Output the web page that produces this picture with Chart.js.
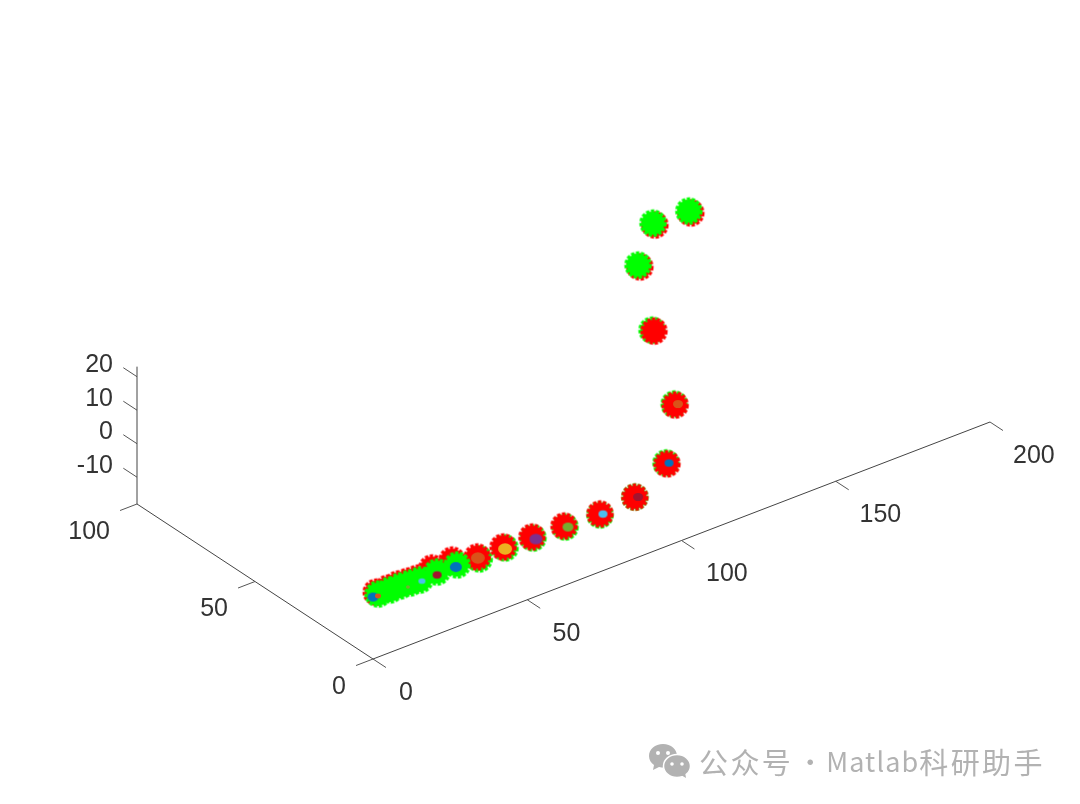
<!DOCTYPE html>
<html>
<head>
<meta charset="utf-8">
<style>
  html, body { margin: 0; padding: 0; background: #fff; }
  #wrap { position: relative; width: 1080px; height: 804px; overflow: hidden; }
  #mark { position: absolute; left: 648px; top: 742px; display: flex; align-items: center; color: #b2b2b2;
          font: 29px "Noto Sans CJK SC", sans-serif; white-space: nowrap; line-height: 38px; }
  #mark svg { margin-right: 8px; }
  #mark .cjk { letter-spacing: 2.4px; }
  #mark .dot { width: 32px; text-align: center; font-size: 26px; margin-left: 1px; }
  #mark .latin { font-size: 27px; letter-spacing: 1.1px; }
</style>
</head>
<body>
<div id="wrap">
  <canvas id="chart" width="1080" height="804"></canvas>
  <div id="mark">
    <svg width="43" height="36" viewBox="0 0 43 36">
      <path d="M15 1C7 1 1 6 1 13c0 4 2 7 5 9l-1 5 6-3c2 .5 3 .6 5 .6 7 0 13-5 13-11.600S23 1 15 1z" fill="#b2b2b2"/>
      <ellipse cx="29" cy="23" rx="13.500" ry="11.500" fill="#b2b2b2" stroke="#fff" stroke-width="1.500"/>
      <path d="M33 32l5 3-1-6z" fill="#b2b2b2"/>
      <circle cx="10" cy="10" r="2" fill="#fff"/><circle cx="20" cy="10" r="2" fill="#fff"/>
      <circle cx="24" cy="21" r="1.800" fill="#fff"/><circle cx="34" cy="21" r="1.800" fill="#fff"/>
    </svg>
    <span class="cjk">公众号</span><span class="dot">·</span><span class="latin">Matlab</span><span class="cjk">科研助手</span>
  </div>
</div>
<script src="https://cdn.jsdelivr.net/npm/chart.js@4/dist/chart.umd.min.js"></script>
<script>
// series, in data units
const greenX = [2.5, 6.2, 9.5, 12.5, 15.4, 21.4, 27.7, 34.1, 42.8, 51.6, 61.6, 72.5, 85.2, 102.2, 122.2, 140.7, 158.1, 163.8, 174.9];
const greenY = [1.1, 0.9, 0.95, 0.6, 0.26, 0.86, 0.58, -0.42, 0, -0.32, -0.84, -1.41, 0.42, 9.46, 32.16, 65.72, 94.4, 95.5, 94.8];
const redX = [2.7, 6.4, 9.7, 12.7, 15.6, 21.6, 28.2, 34.3, 42.7, 51.7, 61.7, 72.8, 85.2, 102.1, 122.1, 140.8, 157.9, 163.6, 174.7];
const redY = [2.2, 2.0, 2.1, 1.7, 1.4, 3.3, 3.4, 0.71, 0.72, 0.25, -0.27, -1.0, 0.42, 8.9, 31.6, 65.0, 93.3, 94.4, 93.7];
const pointZ = [0, 0, 0, 0, 0, 0, 0, 0, 0, 0, 0, 0, 0, 0, 0, 0, 0, 10, 10];
// which green points sit in front of the red ones
const greenOnTop = [0, 1, 2, 3, 4, 5, 6, 16, 17, 18];

const innerX = [0.53, 1.86, 10.8, 15.5, 20.5, 26.8, 34.1, 42.5, 51.9, 62.2, 73.4, 85.9, 102.8, 123.0];
const innerY = [0.69, 0.32, -0.71, -0.45, -0.36, -0.08, 0.15, -0.41, -1.19, -1.31, -1.49, -0.05, 8.95, 31.56];
const innerColor = ["#0072BD", "#D95319", "#77AC30", "#4DBEEE", "#A2142F", "#0072BD", "#D95319", "#EDB120", "#7E2F8E", "#77AC30", "#4DBEEE", "#A2142F", "#0072BD", "#D95319"];
const innerSize = [5.5, 3, 2, 3.5, 4.5, 6, 7, 7, 6.5, 5.5, 4.5, 5, 4.5, 5];

const xTicks = [0, 50, 100, 150, 200];
const yTicks = [0, 50, 100];
const zTicks = [-10, 0, 10, 20];
const zMin = -18;
const zMax = 23;

// fixed camera: plane position of one data unit along each axis
const ORIGIN = [373, 659];
const UX = [3.085, -1.185];
const UY = [-2.36, -1.55];
const UZ = -3.35;

function project(x, y, z) {
  return {
    x: ORIGIN[0] + x * UX[0] + y * UY[0],
    y: ORIGIN[1] + x * UX[1] + y * UY[1] + (z - zMin) * UZ,
  };
}

// MATLAB-ish marker with a notched edge
function makeMarker(color) {
  const c = document.createElement("canvas");
  c.width = 31;
  c.height = 31;
  const g = c.getContext("2d");
  g.fillStyle = color;
  g.beginPath();
  g.arc(15.5, 15.5, 11.5, 0, Math.PI * 2);
  g.fill();
  g.strokeStyle = color;
  g.lineWidth = 3;
  g.setLineDash([3.4, 1.6]);
  g.beginPath();
  g.arc(15.5, 15.5, 12.2, 0, Math.PI * 2);
  g.stroke();
  return c;
}

// flattened blob for the small coloured patch inside a marker
function makeBlob(color, r) {
  const c = document.createElement("canvas");
  const size = Math.ceil(r * 2 + 2);
  c.width = size;
  c.height = size;
  const g = c.getContext("2d");
  g.fillStyle = color;
  g.beginPath();
  g.ellipse(size / 2, size / 2, r, r * 0.82, 0, 0, Math.PI * 2);
  g.fill();
  return c;
}

const GAP = { x: NaN, y: NaN };
const axisLines = [
  project(0, 0, zMin), project(200, 0, zMin), GAP,
  project(0, 0, zMin), project(0, 100, zMin), GAP,
  project(0, 100, zMin), project(0, 100, zMax),
];
const tickLines = [];
xTicks.forEach((t) => tickLines.push(project(t, 0, zMin), project(t, -5.5, zMin), GAP));
yTicks.forEach((t) => tickLines.push(project(0, t, zMin), project(-5.5, t, zMin), GAP));
zTicks.forEach((t) => tickLines.push(project(0, 100, t), project(0, 105.8, t), GAP));

const greenPts = greenX.map((x, i) => project(x, greenY[i], pointZ[i]));
const redPts = redX.map((x, i) => project(x, redY[i], pointZ[i]));
const innerPts = innerX.map((x, i) => project(x, innerY[i], 0));

const tickLabels = {
  id: "tickLabels",
  afterDatasetsDraw(chart) {
    const { ctx, scales } = chart;
    const put = (p, dx, dy, text, align) => {
      ctx.textAlign = align;
      ctx.fillText(text, scales.x.getPixelForValue(p.x) + dx, scales.y.getPixelForValue(p.y) + dy);
    };
    ctx.save();
    ctx.font = '25px "Liberation Sans", Arial, sans-serif';
    ctx.fillStyle = "#333333";
    ctx.textBaseline = "middle";
    xTicks.forEach((t) => put(project(t, 0, zMin), 26 - t * 0.015, 34, String(t), "left"));
    yTicks.forEach((t) => put(project(0, t, zMin), -27, 28, String(t), "right"));
    zTicks.forEach((t) => put(project(0, 100, t), -24, -11.5, String(t), "right"));
    ctx.restore();
  },
};

const lineStyle = { showLine: true, pointRadius: 0, spanGaps: false, fill: false };

new Chart(document.getElementById("chart"), {
  type: "scatter",
  data: {
    datasets: [
      { label: "axes", data: axisLines, borderColor: "#444444", borderWidth: 1, order: 6, ...lineStyle },
      { label: "ticks", data: tickLines, borderColor: "#555555", borderWidth: 1, order: 6, ...lineStyle },
      {
        label: "green back",
        data: greenPts.filter((p, i) => !greenOnTop.includes(i)),
        pointStyle: makeMarker("#00ff00"),
        order: 5,
      },
      { label: "red", data: redPts, pointStyle: makeMarker("#ff0000"), order: 4 },
      {
        label: "green front",
        data: greenPts.filter((p, i) => greenOnTop.includes(i)),
        pointStyle: makeMarker("#00ff00"),
        order: 3,
      },
      {
        label: "inner",
        data: innerPts,
        pointStyle: innerColor.map((col, i) => makeBlob(col, innerSize[i])),
        order: 2,
      },
    ],
  },
  options: {
    responsive: false,
    animation: false,
    layout: { padding: 0, autoPadding: false },
    plugins: { legend: { display: false }, tooltip: { enabled: false } },
    scales: {
      x: { type: "linear", display: false, min: 0, max: 1080 },
      y: { type: "linear", display: false, min: 0, max: 804, reverse: true },
    },
  },
  plugins: [tickLabels],
});
</script>
</body>
</html>
